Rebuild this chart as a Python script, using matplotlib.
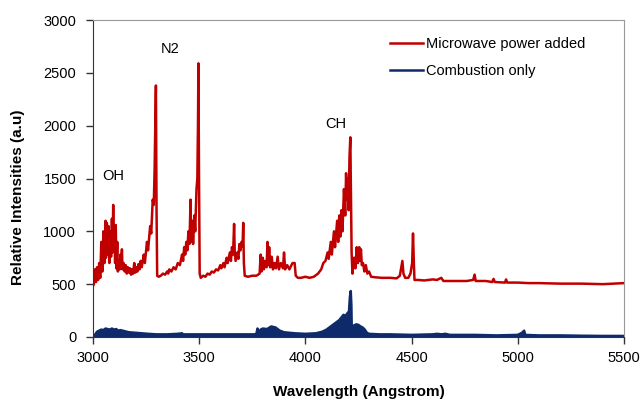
import matplotlib
matplotlib.use("Agg")
import matplotlib.pyplot as plt

plt.rcParams['font.family'] = ['Liberation Sans', 'DejaVu Sans']

# Microwave power added (wavelength, intensity)
red_w = [3000,3005,3010,3015,3020,3025,3030,3035,3040,3045,3050,3055,3060,3062,3066,3070,3074,3078,3082,3086,
         3090,3093,3096,3099,3102,3105,3108,3111,3115,3118,3122,3126,3130,3133,3137,3140,3145,3150,3155,3160,
         3165,3170,3175,3180,3185,3190,3195,3200,3205,3210,3215,3220,3225,3230,3240,3245,3255,3260,3270,3275,
         3282,3287,3291,3294,3297,3300,3303,3310,3320,3330,3340,3350,3355,3360,3370,3380,3390,3400,3410,3420,
         3425,3430,3435,3440,3445,3450,3455,3460,3463,3468,3472,3478,3482,3488,3492,3495,3497,3500,3503,3508,
         3520,3530,3540,3550,3560,3570,3580,3590,3600,3605,3615,3620,3630,3635,3645,3650,3655,3660,3665,3668,
         3672,3680,3685,3690,3695,3700,3705,3708,3711,3715,3730,3750,3770,3785,3790,3794,3800,3805,3812,3818,
         3822,3826,3830,3835,3842,3848,3855,3862,3870,3876,3885,3895,3900,3905,3915,3925,3940,3950,3955,3965,
         3980,4000,4020,4040,4060,4075,4085,4095,4105,4110,4120,4125,4135,4140,4150,4155,4160,4165,4170,4175,
         4182,4188,4192,4196,4200,4204,4208,4212,4215,4218,4222,4226,4230,4236,4242,4248,4254,4258,4262,4266,
         4272,4278,4285,4292,4300,4310,4330,4360,4400,4430,4445,4452,4457,4462,4470,4485,4495,4503,4507,4511,
         4514,4530,4560,4600,4620,4640,4650,4700,4760,4790,4797,4802,4850,4880,4886,4892,4940,4945,4950,5000,
         5050,5100,5200,5300,5400,5500]
red_i = [480,500,640,520,660,540,700,560,900,620,1000,700,1100,750,1080,780,1050,700,1000,760,
         1120,800,1250,820,1050,700,1060,650,900,620,700,640,780,650,830,640,700,620,680,600,
         660,610,650,590,640,600,700,610,660,620,690,640,720,660,780,700,900,820,1050,980,
         1300,1250,1600,2000,2380,1200,580,570,580,600,590,620,600,640,620,660,640,700,680,780,
         720,850,780,900,820,1000,880,1300,900,1100,880,1150,1000,1400,1500,2000,2590,1500,600,560,
         580,570,600,590,620,610,640,630,680,650,700,660,750,700,800,720,850,780,1070,800,
         720,800,740,880,820,900,860,1080,700,580,570,580,580,600,780,620,750,640,720,660,
         900,680,850,660,760,640,700,650,760,640,700,650,800,640,680,640,700,700,580,560,
         560,570,560,570,600,640,700,720,800,740,900,780,1000,850,1100,900,1150,950,1200,1000,
         1400,1150,1550,1300,1500,1200,1700,1890,1300,800,600,700,750,650,850,700,850,720,830,680,
         700,620,680,600,620,570,565,560,560,555,580,660,720,600,560,560,600,700,980,700,
         540,540,535,545,540,560,530,530,530,540,590,530,530,520,550,520,515,545,515,515,
         510,510,505,505,500,510]

# Combustion only (wavelength, intensity)
blue_w = [3000,3010,3020,3030,3040,3050,3060,3070,3080,3090,3100,3110,3120,3130,3150,3170,3200,3230,3260,3300,
          3350,3400,3420,3425,3500,3600,3700,3760,3770,3775,3780,3790,3800,3820,3840,3850,3860,3870,3880,3900,
          3950,4000,4050,4080,4100,4120,4140,4160,4180,4190,4200,4205,4210,4214,4217,4219,4222,4230,4240,4250,
          4260,4270,4280,4290,4300,4350,4400,4500,4600,4620,4640,4660,4680,4800,4900,5000,5020,5030,5035,5100,
          5200,5300,5400,5500]
blue_i = [0,20,50,60,70,65,80,75,70,80,70,75,60,65,55,45,40,35,30,25,
          25,30,35,25,25,25,25,25,30,80,50,70,80,75,100,95,90,75,60,45,
          35,30,35,50,70,100,130,160,210,200,230,220,380,435,300,30,100,110,120,115,
          100,90,70,40,30,25,25,20,25,30,25,30,20,20,15,20,40,60,20,15,
          15,12,10,10]

x_ticks = [3000, 3500, 4000, 4500, 5000, 5500]
y_ticks = [0, 500, 1000, 1500, 2000, 2500, 3000]

red_c = '#C00000'
blue_c = '#0E2A6B'

fig = plt.figure(figsize=(6.4, 4.0), dpi=100)
ax = fig.add_axes([0.145, 0.1575, 0.83, 0.7925])

ax.fill_between(blue_w, 0, blue_i, color=blue_c, lw=0)
ax.plot(blue_w, blue_i, color=blue_c, lw=1.8, label='Combustion only')
ax.plot(red_w, red_i, color=red_c, lw=1.8, label='Microwave power added')

ax.set_xlim(3000, 5500)
ax.set_ylim(0, 3000)
ax.set_xticks(x_ticks)
ax.set_yticks(y_ticks)
ax.tick_params(direction='out', length=5, width=1, labelsize=10.5, color='#333333')
ax.tick_params(axis='y', pad=7)
ax.tick_params(axis='x', pad=5)
for s in ['top', 'right']:
    ax.spines[s].set_color('#999999')
for s in ['left', 'bottom']:
    ax.spines[s].set_color('#333333')

ax.text(3094, 1523, 'OH', ha='center', va='center', fontsize=10.5)
ax.text(3363, 2725, 'N2', ha='center', va='center', fontsize=10.5)
ax.text(4146, 2015, 'CH', ha='center', va='center', fontsize=10.5)

ax.set_xlabel('Wavelength (Angstrom)', fontsize=11, fontweight='bold')
ax.set_ylabel('Relative Intensities (a.u)', fontsize=11, fontweight='bold')
ax.xaxis.set_label_coords(0.5, -0.1735)
ax.yaxis.set_label_coords(-0.1415, 0.4416)
ax.xaxis.label.set_va('center')
ax.yaxis.label.set_va('center')

h, l = ax.get_legend_handles_labels()
ax.legend([h[1], h[0]], [l[1], l[0]], loc='upper left', bbox_to_anchor=(0.56, 0.946),
          frameon=False, fontsize=10.5, borderpad=0, borderaxespad=0,
          handlelength=2.26, handletextpad=0.2, labelspacing=0.9)

fig.savefig('out.png', dpi=100)
